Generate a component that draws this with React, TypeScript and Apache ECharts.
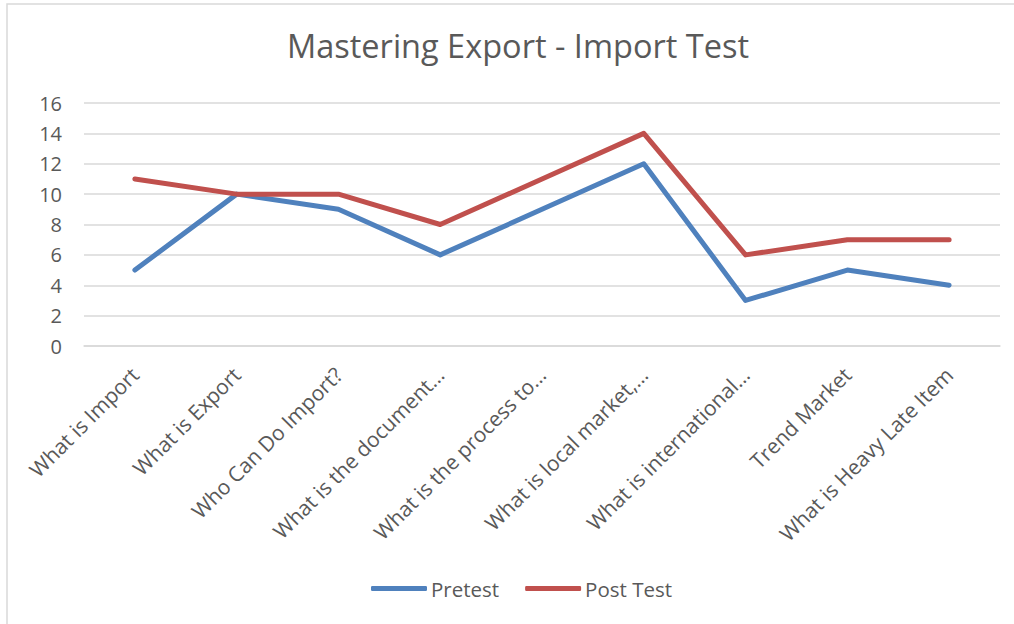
import React, { useEffect, useRef } from "react";
import * as echarts from "echarts";

const categories = [
  "What is Import",
  "What is Export",
  "Who Can Do Import?",
  "What is the document…",
  "What is the process to…",
  "What is local market,…",
  "What is international…",
  "Trend Market",
  "What is Heavy Late Item",
];
const pretest = [5, 10, 9, 6, 9, 12, 3, 5, 4];
const postTest = [11, 10, 10, 8, 11, 14, 6, 7, 7];

const FONT = "'Open Sans', 'Noto Sans', sans-serif";

export default function App() {
  const ref = useRef<HTMLDivElement>(null);
  useEffect(() => {
    document.body.style.margin = "0";
    const chart = echarts.init(ref.current!, null, { renderer: "svg" });
    chart.setOption({
      animation: false,
      backgroundColor: "#ffffff",
      textStyle: { fontFamily: FONT },
      graphic: [
        {
          type: "rect",
          shape: { x: 7, y: 4, width: 1020, height: 640 },
          style: { fill: "none", stroke: "#d9d9d9", lineWidth: 1.5 },
          silent: true,
        },
      ],
      title: {
        text: "Mastering Export - Import Test",
        left: 282,
        top: 24,
        textStyle: { fontFamily: FONT, fontSize: 32.5, fontWeight: "normal", color: "#595959" },
      },
      legend: {
        bottom: 20,
        left: 366,
        itemWidth: 56,
        itemHeight: 5,
        itemGap: 26,
        icon: "roundRect",
        textStyle: { fontFamily: FONT, fontSize: 20.5, color: "#595959", padding: [0, 0, 0, -1] },
        data: ["Pretest", "Post Test"],
      },
      grid: { left: 84, right: 14, top: 103, bottom: 278, containLabel: false },
      xAxis: {
        type: "category",
        data: categories,
        boundaryGap: true,
        axisLine: { show: true, lineStyle: { color: "#d9d9d9", width: 1.5 } },
        axisTick: { show: false },
        axisLabel: {
          interval: 0,
          rotate: 45,
          margin: 25,
          fontFamily: FONT,
          fontSize: 21,
          color: "#595959",
        },
      },
      yAxis: {
        type: "value",
        min: 0,
        max: 16,
        interval: 2,
        axisLine: { show: false },
        axisTick: { show: false },
        splitLine: { lineStyle: { color: "#d9d9d9", width: 1.5 } },
        axisLabel: { margin: 22, fontFamily: FONT, fontSize: 20, color: "#595959" },
      },
      series: [
        {
          name: "Pretest",
          type: "line",
          data: pretest,
          symbol: "none",
          lineStyle: { color: "#4F81BD", width: 5, cap: "round", join: "round" },
          itemStyle: { color: "#4F81BD" },
        },
        {
          name: "Post Test",
          type: "line",
          data: postTest,
          symbol: "none",
          lineStyle: { color: "#C0504D", width: 5, cap: "round", join: "round" },
          itemStyle: { color: "#C0504D" },
        },
      ],
    });
    return () => chart.dispose();
  }, []);
  return (
    <div
      ref={ref}
      style={{ position: "absolute", left: 0, top: 0, width: 1014, height: 624 }}
    />
  );
}
